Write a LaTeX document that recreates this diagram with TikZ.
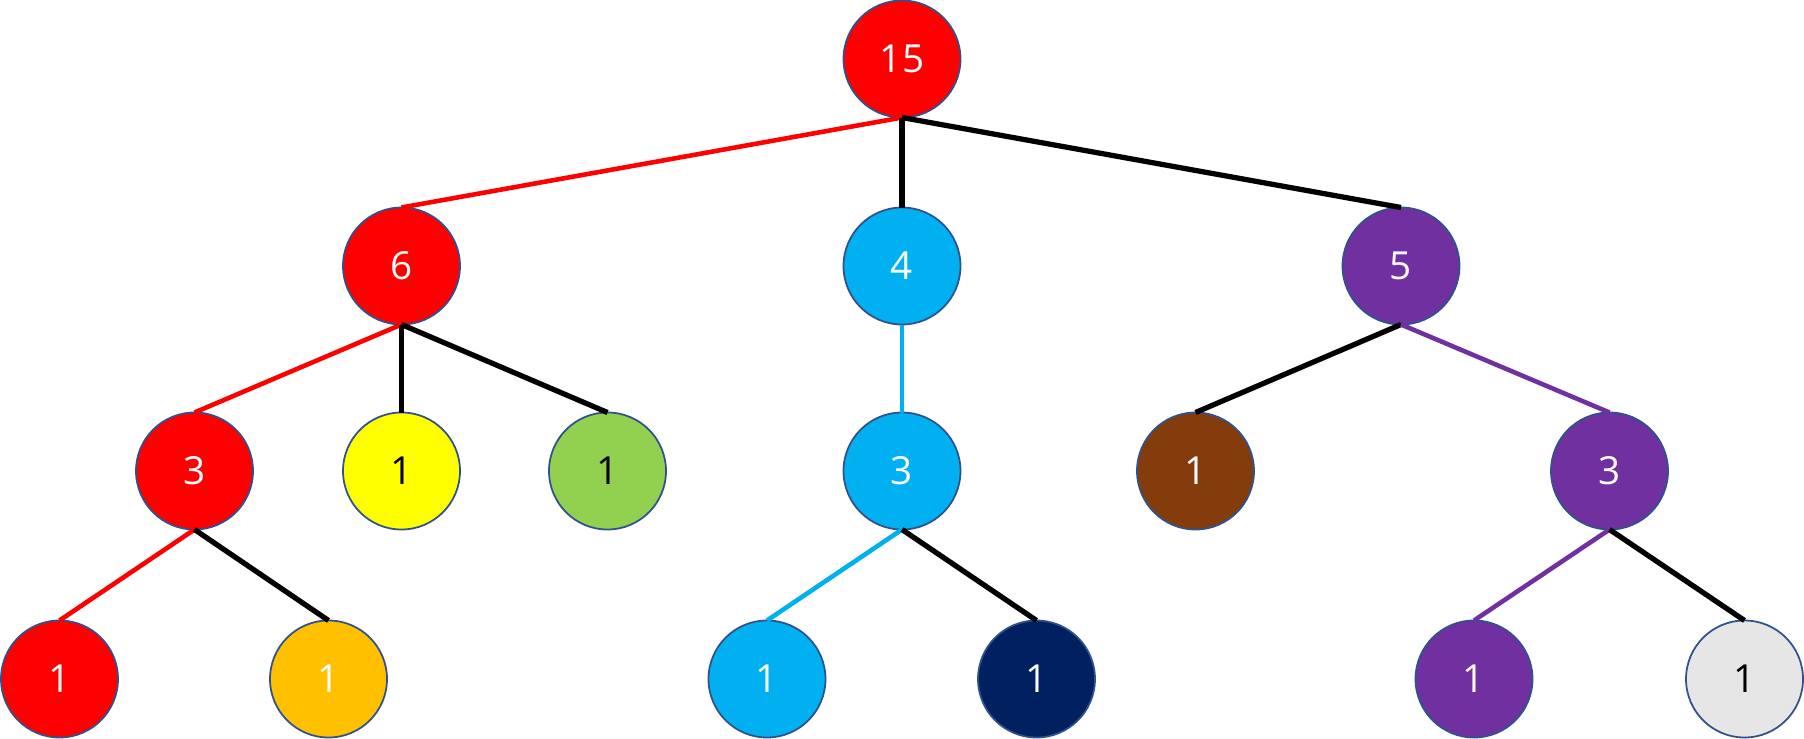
\documentclass[tikz,border=0pt]{standalone}
\usepackage{fontspec}
\setmainfont{Open Sans}
\usepackage{xcolor}
\usetikzlibrary{positioning}
\definecolor{rim}{HTML}{2F528F}
\definecolor{cred}{HTML}{FF0000}
\definecolor{ccyan}{HTML}{00B0F0}
\definecolor{cpurple}{HTML}{7030A0}
\definecolor{cyellow}{HTML}{FFFF00}
\definecolor{cgreen}{HTML}{92D050}
\definecolor{cbrown}{HTML}{843C0C}
\definecolor{corange}{HTML}{FFC000}
\definecolor{cnavy}{HTML}{002060}
\definecolor{cgrey}{HTML}{E6E6E6}

\begin{document}
\begin{tikzpicture}[
    ball/.style={circle,draw=rim,line width=0.5pt,minimum size=1.17cm,inner sep=0pt,outer sep=0pt,font=\fontsize{11}{13}\selectfont},
    lit/.style={ball,text=white},
    dark/.style={ball,text=black},
    link/.style={line width=1.5pt}]
    \useasboundingbox (0,0) rectangle (18.04,-7.39);
    % level 0
    \node[lit,fill=cred] (r15) at (9.02,-0.59) {15};
    % level 1
    \node[lit,fill=cred] (r6) at (4.015,-2.66) {6};
    \node[lit,fill=ccyan] (c4) at (9.02,-2.66) {4};
    \node[lit,fill=cpurple] (p5) at (14.01,-2.66) {5};
    % level 2
    \node[lit,fill=cred] (r3) at (1.945,-4.71) {3};
    \node[dark,fill=cyellow] (y1) at (4.015,-4.71) {1};
    \node[dark,fill=cgreen] (g1) at (6.075,-4.71) {1};
    \node[lit,fill=ccyan] (c3) at (9.02,-4.71) {3};
    \node[lit,fill=cbrown] (b1) at (11.955,-4.71) {1};
    \node[lit,fill=cpurple] (p3) at (16.095,-4.71) {3};
    % level 3
    \node[lit,fill=cred] (r1) at (0.595,-6.79) {1};
    \node[lit,fill=corange] (o1) at (3.285,-6.79) {1};
    \node[lit,fill=ccyan] (c1) at (7.67,-6.79) {1};
    \node[lit,fill=cnavy] (n1) at (10.365,-6.79) {1};
    \node[lit,fill=cpurple] (p1) at (14.74,-6.79) {1};
    \node[dark,fill=cgrey] (w1) at (17.445,-6.79) {1};
    % links
    \draw[link,cred,line width=1.3pt] (r15.south) -- (r6.north);
    \draw[link] (r15.south) -- (c4.north);
    \draw[link] (r15.south) -- (p5.north);
    \draw[link,cred,line width=1.3pt] (r6.south) -- (r3.north);
    \draw[link] (r6.south) -- (y1.north);
    \draw[link] (r6.south) -- (g1.north);
    \draw[link,ccyan,line width=1.3pt] (c4.south) -- (c3.north);
    \draw[link] (p5.south) -- (b1.north);
    \draw[link,cpurple,line width=1.3pt] (p5.south) -- (p3.north);
    \draw[link,cred,line width=1.3pt] (r3.south) -- (r1.north);
    \draw[link] (r3.south) -- (o1.north);
    \draw[link,ccyan,line width=1.3pt] (c3.south) -- (c1.north);
    \draw[link] (c3.south) -- (n1.north);
    \draw[link,cpurple,line width=1.3pt] (p3.south) -- (p1.north);
    \draw[link] (p3.south) -- (w1.north);
\end{tikzpicture}
\end{document}
